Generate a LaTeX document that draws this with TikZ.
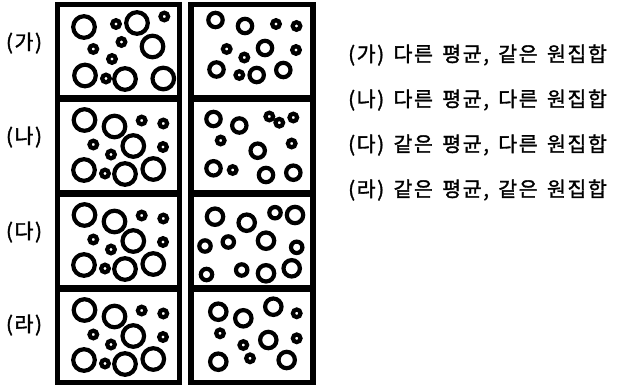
\documentclass[tikz,border=0pt]{standalone}
\usepackage{fontspec}
\newfontfamily\kr{Noto Sans CJK KR}[FakeBold=1.6, LetterSpace=8, WordSpace=1.5]
\def\rB{10.8}
\def\rS{3.8}
\def\rM{7.2}
\def\rN{5.7}
\def\rL{8.2}
\tikzset{
  panel/.style={
    draw, line width=5.5pt, minimum width=122pt, minimum height=93pt,
    inner sep=0pt, outer sep=0pt,
  },
  ring/.style={draw, line width=4.2pt},
  tag/.style={font=\kr\fontsize{20.5}{24}\selectfont, inner sep=0pt},
}
% the left-hand set used in rows 2 to 4
\newcommand\leftset{%
  \draw[ring] (84.5,120) circle[radius=\rB] (114.5,126.5) circle[radius=\rB]
    (141.7,120.5) circle[radius=\rS] (163.3,123.5) circle[radius=\rS]
    (93.3,144.5) circle[radius=\rS] (133.3,146) circle[radius=\rB]
    (163,147) circle[radius=\rS] (111,154.5) circle[radius=\rS]
    (84,170) circle[radius=\rB] (105,173.5) circle[radius=\rS]
    (125,174) circle[radius=\rB] (153.3,169) circle[radius=\rB];
}
\begin{document}
\begin{tikzpicture}[x=1pt,y=-1pt]
  \useasboundingbox (0,0) rectangle (617,386);

  % panels
  \node[panel] (pA1) at (118.5,51) {};
  \node[panel] (pB1) at (118.5,146) {};
  \node[panel] (pC1) at (118.5,241) {};
  \node[panel] (pD1) at (118.5,336) {};
  \node[panel] (pA2) at (252,51) {};
  \node[panel] (pB2) at (252,146) {};
  \node[panel] (pC2) at (252,241) {};
  \node[panel] (pD2) at (252,336) {};

  % row labels
  \node[tag] (lA) at (24,43) {(가)};
  \node[tag] (lB) at (24,137) {(나)};
  \node[tag] (lC) at (24,232) {(다)};
  \node[tag] (lD) at (24,325) {(라)};

  % (가)
  \draw[ring] (84,27) circle[radius=\rB] (116,24) circle[radius=\rS]
    (137,23) circle[radius=\rB] (164.3,16.5) circle[radius=\rS]
    (121.5,42) circle[radius=\rS] (152.5,46.5) circle[radius=\rB]
    (93.3,49) circle[radius=\rS] (112,59) circle[radius=\rS]
    (85,75.5) circle[radius=\rB] (106,78.5) circle[radius=\rS]
    (125,79) circle[radius=\rB] (163.3,78.5) circle[radius=\rB];
  \draw[ring] (215.5,20) circle[radius=\rM] (245,26) circle[radius=\rM]
    (276,24) circle[radius=\rS] (296.5,26) circle[radius=\rS]
    (226.7,49) circle[radius=\rS] (265,48) circle[radius=\rM]
    (296,50) circle[radius=\rS] (244.3,57.5) circle[radius=\rS]
    (216.5,69.5) circle[radius=\rM] (239.3,75) circle[radius=\rS]
    (256.7,75) circle[radius=\rM] (283.3,70) circle[radius=\rM];

  % (나)
  \leftset
  \draw[ring] (213.5,119) circle[radius=\rM] (239.3,125.5) circle[radius=\rM]
    (269.3,116.5) circle[radius=\rS] (293.3,117.5) circle[radius=\rS]
    (279.3,122.7) circle[radius=\rS] (220.7,140.5) circle[radius=\rS]
    (257.7,150.7) circle[radius=\rM] (291.7,143.5) circle[radius=\rS]
    (213.5,168.3) circle[radius=\rM] (232.7,170) circle[radius=\rS]
    (266,175) circle[radius=\rM] (293.3,172.7) circle[radius=\rM];

  % (다)
  \begin{scope}[shift={(0,95)}]
    \leftset
  \end{scope}
  \draw[ring] (215,216.7) circle[radius=\rL] (246.7,222.7) circle[radius=\rL]
    (275,212.7) circle[radius=\rN] (295,215) circle[radius=\rL]
    (205,246) circle[radius=\rN] (228.3,242) circle[radius=\rN]
    (266,240.7) circle[radius=\rL] (296.7,247.3) circle[radius=\rN]
    (206.5,274.5) circle[radius=\rN] (241.7,270) circle[radius=\rN]
    (266,273.3) circle[radius=\rL] (291.7,268.3) circle[radius=\rL];

  % (라)
  \begin{scope}[shift={(0,190)}]
    \leftset
  \end{scope}
  \draw[ring] (218.3,311.7) circle[radius=\rL] (243.3,318.3) circle[radius=\rL]
    (273.3,306.7) circle[radius=\rL] (296.7,313.3) circle[radius=\rS]
    (220,333.3) circle[radius=\rS] (243.3,345) circle[radius=\rS]
    (268.3,340) circle[radius=\rL] (296.7,338.3) circle[radius=\rS]
    (218.3,361.7) circle[radius=\rL] (250,358.3) circle[radius=\rS]
    (286.7,360) circle[radius=\rL];

  % legend
  \node[tag, anchor=west] (kA) at (348,55) {(가) 다른 평균, 같은 원집합};
  \node[tag, anchor=west] (kB) at (348,100) {(나) 다른 평균, 다른 원집합};
  \node[tag, anchor=west] (kC) at (348,145) {(다) 같은 평균, 다른 원집합};
  \node[tag, anchor=west] (kD) at (348,190) {(라) 같은 평균, 같은 원집합};
\end{tikzpicture}
\end{document}
